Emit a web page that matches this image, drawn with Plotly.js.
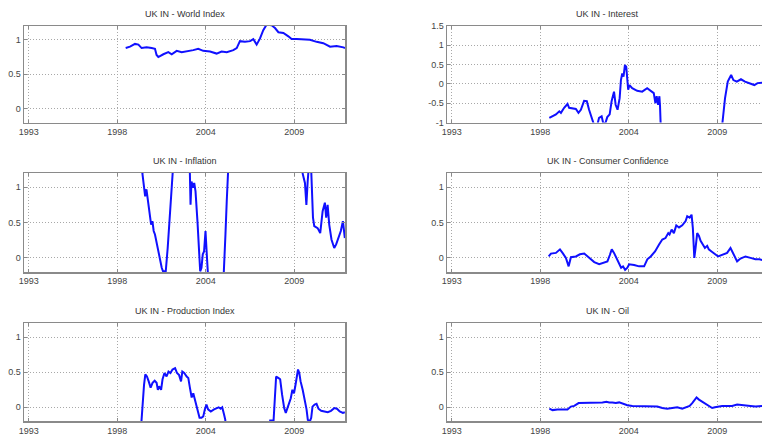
<!DOCTYPE html>
<html>
<head>
<meta charset="utf-8">
<script src="https://cdn.plot.ly/plotly-3.0.1.min.js"></script>
<style>
html,body{margin:0;padding:0;overflow:hidden;background:#fff;width:762px;height:436px;}
#chart{width:780px;height:436px;}
</style>
</head>
<body>
<div id="chart"></div>
<script>
// ---- Data (decimal years) ----
const xTickVals = [1993, 1998.5, 2004, 2009.5];
const xTickText = ["1993", "1998", "2004", "2009"];

const titles = ["UK IN - World Index", "UK IN - Interest", "UK IN - Inflation",
                "UK IN - Consumer Confidence", "UK IN - Production Index", "UK IN - Oil"];

const worldX = [1999.02,1999.29,1999.60,1999.81,2000.01,2000.32,2000.63,2000.84,2000.94,2001.05,2001.36,2001.67,2001.88,2002.19,2002.50,2002.81,2003.22,2003.53,2003.84,2004.26,2004.67,2004.98,2005.30,2005.71,2005.92,2006.12,2006.43,2006.75,2006.95,2007.16,2007.37,2007.57,2007.78,2008.09,2008.30,2008.51,2008.82,2009.13,2009.33,2009.65,2010.06,2010.47,2010.89,2011.30,2011.72,2012.13,2012.55,2012.65];
const worldY = [0.88,0.90,0.94,0.93,0.88,0.89,0.88,0.87,0.78,0.75,0.79,0.82,0.79,0.84,0.82,0.83,0.85,0.87,0.84,0.83,0.80,0.83,0.82,0.85,0.88,0.98,0.97,0.98,1.01,0.93,1.02,1.14,1.22,1.21,1.17,1.11,1.10,1.05,1.01,1.01,1.01,1.00,0.97,0.95,0.90,0.91,0.89,0.88];

const interestX = [1999.06,1999.26,1999.47,1999.68,1999.78,1999.98,2000.19,2000.29,2000.50,2000.71,2000.87,2001.02,2001.22,2001.39,2001.53,2001.63,2001.78,2001.90,2002.05,2002.15,2002.31,2002.40,2002.52,2002.66,2002.81,2002.93,2003.08,2003.18,2003.30,2003.43,2003.51,2003.59,2003.67,2003.76,2003.84,2003.92,2003.96,2004.04,2004.21,2004.52,2004.83,2005.14,2005.35,2005.55,2005.65,2005.73,2005.82,2005.90,2005.94,2005.98,2006.10,2009.60,2009.78,2009.82,2009.98,2010.15,2010.36,2010.50,2010.71,2010.97,2011.22,2011.53,2011.80,2012.00,2012.30,2012.65];
const interestY = [-0.88,-0.84,-0.79,-0.71,-0.75,-0.62,-0.52,-0.62,-0.64,-0.65,-0.75,-0.67,-0.44,-0.45,-0.67,-0.79,-1.00,-1.14,-1.05,-0.88,-0.84,-1.00,-1.05,-0.86,-0.79,-0.45,-0.20,-0.54,-0.67,-0.37,0.10,0.27,0.19,0.49,0.44,0.15,-0.15,-0.03,-0.11,-0.18,-0.20,-0.11,-0.18,-0.24,-0.50,-0.32,-0.54,-0.32,-0.58,-1.05,-2.50,-2.50,-1.10,-1.00,-0.37,0.06,0.23,0.10,0.06,0.12,0.06,0.02,-0.03,0.02,0.04,0.05];

const inflX = [1999.00,1999.95,2000.06,2000.14,2000.23,2000.31,2000.39,2000.48,2000.60,2000.68,2000.76,2000.84,2001.01,2001.15,2001.26,2001.34,2001.51,2001.63,2001.77,2001.88,2001.94,2002.00,2002.95,2003.01,2003.05,2003.11,2003.22,2003.28,2003.36,2003.48,2003.57,2003.65,2003.73,2003.81,2003.89,2003.98,2004.06,2004.14,2004.20,2005.06,2005.13,2005.22,2005.30,2005.42,2005.50,2009.95,2010.02,2010.16,2010.25,2010.33,2010.42,2010.54,2010.58,2010.66,2010.74,2010.95,2011.11,2011.26,2011.40,2011.48,2011.57,2011.67,2011.81,2011.98,2012.10,2012.23,2012.39,2012.52,2012.64];
const inflY = [3.00,1.60,1.19,1.01,0.87,0.97,0.85,0.68,0.47,0.52,0.38,0.33,0.14,-0.05,-0.14,-0.19,-0.19,0.14,0.66,1.08,1.20,1.60,1.50,1.19,0.75,1.08,0.99,1.06,0.94,0.52,0.09,-0.19,-0.14,0.05,0.09,0.38,0.05,-0.19,-0.50,-0.50,-0.19,0.33,0.80,1.20,1.80,1.80,1.19,1.06,0.75,1.08,1.35,1.30,0.94,0.57,0.45,0.42,0.35,0.66,0.78,0.57,0.75,0.47,0.26,0.14,0.19,0.28,0.38,0.52,0.28];

const consX = [1999.02,1999.16,1999.47,1999.72,1999.88,2000.09,2000.26,2000.40,2000.71,2000.96,2001.23,2001.54,2001.85,2002.16,2002.47,2002.67,2002.82,2002.94,2003.08,2003.23,2003.40,2003.52,2003.64,2003.77,2003.91,2004.02,2004.33,2004.64,2004.95,2005.15,2005.36,2005.63,2005.88,2006.08,2006.28,2006.45,2006.53,2006.66,2006.80,2006.95,2007.12,2007.32,2007.53,2007.63,2007.78,2007.90,2007.98,2008.07,2008.15,2008.25,2008.36,2008.46,2008.60,2008.73,2008.87,2008.97,2009.14,2009.29,2009.43,2009.55,2009.80,2010.11,2010.32,2010.42,2010.59,2010.73,2010.94,2011.25,2011.56,2011.87,2012.12,2012.40,2012.65];
const consY = [0.02,0.06,0.07,0.12,0.07,0.00,-0.12,0.01,0.02,0.05,0.06,0.00,-0.06,-0.09,-0.06,-0.05,0.04,0.12,0.07,0.00,-0.07,-0.14,-0.12,-0.17,-0.14,-0.09,-0.10,-0.12,-0.12,-0.02,0.02,0.09,0.19,0.26,0.28,0.35,0.33,0.40,0.35,0.46,0.43,0.46,0.52,0.59,0.57,0.61,0.42,0.00,0.14,0.35,0.31,0.24,0.19,0.14,0.17,0.12,0.09,0.07,0.04,0.02,0.04,0.07,0.14,0.09,0.02,-0.05,-0.01,0.02,0.00,-0.02,-0.02,-0.04,-0.03];

const prodX = [1999.00,1999.90,2000.00,2000.08,2000.16,2000.24,2000.34,2000.45,2000.57,2000.69,2000.82,2000.94,2001.02,2001.10,2001.22,2001.31,2001.43,2001.56,2001.68,2001.80,2001.93,2002.09,2002.21,2002.34,2002.46,2002.54,2002.66,2002.81,2002.91,2003.01,2003.12,2003.22,2003.32,2003.49,2003.61,2003.73,2003.84,2003.94,2004.04,2004.14,2004.31,2004.51,2004.66,2004.80,2004.92,2005.02,2005.13,2005.21,2005.30,2007.90,2008.00,2008.21,2008.29,2008.37,2008.50,2008.62,2008.74,2008.87,2008.97,2009.07,2009.17,2009.28,2009.38,2009.48,2009.56,2009.65,2009.73,2009.81,2009.89,2010.02,2010.14,2010.26,2010.34,2010.47,2010.55,2010.63,2010.76,2010.88,2011.00,2011.17,2011.37,2011.58,2011.78,2011.99,2012.15,2012.32,2012.52,2012.64];
const prodY = [-0.60,-0.40,-0.20,0.09,0.32,0.47,0.44,0.37,0.28,0.35,0.38,0.35,0.25,0.30,0.25,0.40,0.49,0.44,0.51,0.49,0.54,0.56,0.49,0.46,0.37,0.51,0.49,0.44,0.42,0.28,0.14,0.20,0.11,-0.06,-0.15,-0.15,-0.13,-0.03,0.04,-0.03,-0.06,-0.03,-0.02,0.00,-0.02,0.00,-0.10,-0.18,-0.50,-0.50,-0.19,-0.19,0.13,0.44,0.42,0.40,0.18,-0.01,-0.08,-0.01,0.04,0.13,0.25,0.20,0.30,0.44,0.54,0.49,0.37,0.25,0.13,-0.03,-0.18,-0.20,-0.15,0.01,0.04,0.05,-0.02,-0.05,-0.06,-0.07,-0.05,-0.01,-0.02,-0.06,-0.08,-0.07];

const oilX = [1999.06,1999.26,1999.57,1999.88,2000.19,2000.40,2000.61,2000.88,2001.12,2001.43,2001.74,2002.05,2002.36,2002.61,2002.78,2002.98,2003.19,2003.40,2003.64,2003.91,2004.22,2004.53,2004.84,2005.15,2005.46,2005.77,2006.08,2006.39,2006.70,2007.01,2007.32,2007.53,2007.78,2007.94,2008.11,2008.21,2008.36,2008.56,2008.77,2008.98,2009.18,2009.35,2009.55,2009.80,2010.11,2010.42,2010.73,2011.00,2011.25,2011.56,2011.87,2012.16,2012.40,2012.65];
const oilY = [-0.02,-0.04,-0.03,-0.03,-0.03,0.01,0.02,0.06,0.06,0.06,0.06,0.07,0.07,0.08,0.07,0.07,0.06,0.07,0.05,0.03,0.02,0.02,0.02,0.02,0.02,0.01,-0.01,-0.02,-0.01,0.00,-0.02,0.00,0.02,0.06,0.11,0.14,0.11,0.08,0.04,0.01,-0.01,0.00,0.01,0.02,0.02,0.02,0.04,0.03,0.03,0.02,0.01,0.02,0.02,0.02];

const series = [[worldX, worldY],[interestX, interestY],[inflX, inflY],[consX, consY],[prodX, prodY],[oilX, oilY]];

// ---- Layout ----
const W = 780, H = 436;
const colDom = [[24/W, 345/W],[447/W, 768/W]];
const rowPx = [[26, 122.5],[173, 272],[323.3, 421.3]];
const stdTicks = {vals:[0,0.5,1], text:["0","0.5","1"], range:[-0.2,1.2]};
const intTicks = {vals:[-1,-0.5,0,0.5,1,1.5], text:["-1","-0.5","0","0.5","1","1.5"], range:[-1,1.5]};

const traces = [];
const layout = {
  width: W, height: H,
  margin: {l:0, r:0, t:0, b:0},
  paper_bgcolor: '#ffffff', plot_bgcolor: '#ffffff',
  showlegend: false,
  font: {family: 'Liberation Sans, Arial, sans-serif', size: 9, color: '#444'},
  annotations: []
};

series.forEach((s, i) => {
  const r = Math.floor(i/2), c = i % 2;
  const n = i + 1;
  const xa = 'xaxis' + (n === 1 ? '' : n), ya = 'yaxis' + (n === 1 ? '' : n);
  traces.push({
    x: s[0], y: s[1], type: 'scatter', mode: 'lines',
    xaxis: 'x' + (n === 1 ? '' : n), yaxis: 'y' + (n === 1 ? '' : n),
    line: {color: '#1010ff', width: 2}, hoverinfo: 'skip'
  });
  const yd = [(H - rowPx[r][1]) / H, (H - rowPx[r][0]) / H];
  const tk = (i === 1) ? intTicks : stdTicks;
  const common = {
    showline: true, linecolor: '#8a8a8a', linewidth: 1.5, mirror: 'ticks',
    ticks: 'inside', ticklen: 3, tickcolor: '#8a8a8a',
    showgrid: true, gridcolor: '#a8a8a8', griddash: '1px,2px', gridwidth: 1,
    zeroline: false, fixedrange: true,
    tickfont: {family: 'Liberation Sans, Arial, sans-serif', size: 9, color: '#444'}
  };
  layout[xa] = Object.assign({}, common, {
    domain: colDom[c], range: [1992.70, 2012.65],
    tickmode: 'array', tickvals: xTickVals, ticktext: xTickText,
    anchor: 'y' + (n === 1 ? '' : n)
  });
  layout[ya] = Object.assign({}, common, {
    domain: yd, range: tk.range,
    tickmode: 'array', tickvals: tk.vals, ticktext: tk.text,
    anchor: 'x' + (n === 1 ? '' : n)
  });
  layout.annotations.push({
    text: titles[i], xref: 'paper', yref: 'paper',
    x: (colDom[c][0] + colDom[c][1]) / 2, y: (H - rowPx[r][0] + 5) / H,
    xanchor: 'center', yanchor: 'bottom', showarrow: false,
    font: {family: 'Liberation Sans, Arial, sans-serif', size: 9, color: '#333'}
  });
});

Plotly.newPlot('chart', traces, layout, {staticPlot: true, displayModeBar: false});
</script>
</body>
</html>
